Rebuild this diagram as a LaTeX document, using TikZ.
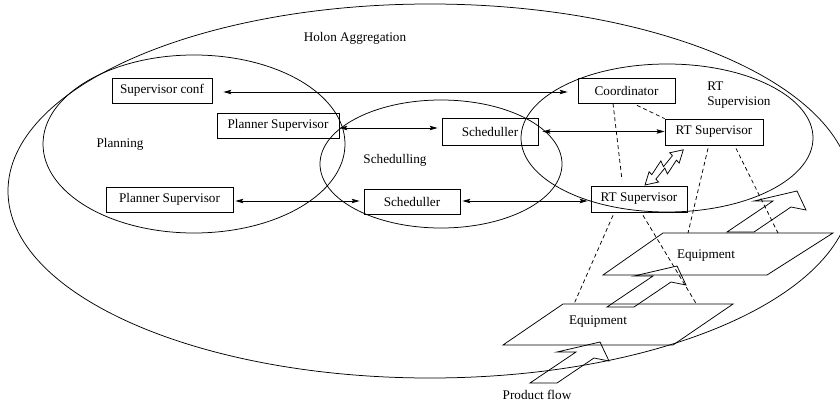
\documentclass[tikz,border=0pt]{standalone}
\usepackage{fontspec}
\setmainfont{Liberation Serif}
\usetikzlibrary{arrows.meta}
\newcommand\diagfont{\fontsize{13.2}{15.5}\selectfont}
\begin{document}
\begin{tikzpicture}[x=1pt,y=-1pt,line width=0.75pt,
  >={Stealth[length=8pt,width=4.5pt,inset=1.5pt]},
  box/.style={draw,minimum height=25pt,inner sep=0pt,font=\diagfont},
  lbl/.style={font=\diagfont,inner sep=0pt},
  biarrow/.style={<->},
  link/.style={dash pattern=on 4pt off 3pt},
  flowarrow/.pic={
    \draw (0,0) -- (46,-31) -- (27,-31) -- (70,-41) -- (79,-22) -- (64,-25) -- (27,0) -- cycle;
  }]
\useasboundingbox (0,0) rectangle (840,404);
\clip (0,0) rectangle (840,404);

% domains
\draw (430,191) ellipse [x radius=422pt, y radius=187pt];
\draw (194,144) ellipse [x radius=151pt, y radius=89pt];
\draw (441,164) ellipse [x radius=121pt, y radius=64pt];
\draw (667,138) ellipse [x radius=146pt, y radius=74pt];

\node[lbl] (holon) at (355,38) {Holon Aggregation};
\node[lbl] (plan) at (120,144) {Planning};
\node[lbl] (sched) at (395,160) {Schedulling};
\node[lbl,anchor=west,align=left] (rtsup) at (707,95) {RT\\Supervision};

% functional units
\node[box,minimum width=100pt] (sconf) at (162,90.5) {Supervisor conf};
\node[box,minimum width=122pt] (ps1) at (278,125.5) {Planner Supervisor};
\node[box,minimum width=127pt] (ps2) at (169.5,199.5) {Planner Supervisor};
\node[box,minimum width=96pt,minimum height=27pt] (sch1) at (490,131.5) {Scheduller};
\node[box,minimum width=96pt] (sch2) at (412,201.5) {Scheduller};
\node[box,minimum width=97pt] (coord) at (626.5,90.5) {Coordinator};
\node[box,minimum width=98pt,minimum height=26pt] (rts1) at (714,132) {RT Supervisor};
\node[box,minimum width=96pt,minimum height=26pt] (rts2) at (639,199) {RT Supervisor};

% message exchanges
\draw[biarrow,shorten <=11pt,shorten >=10pt] ([yshift=-1.5pt]sconf.east) -- ([yshift=-1.5pt]sconf.east -| coord.west);
\draw[biarrow,shorten >=4pt] ([yshift=-2.5pt]ps1.east) -- ([yshift=-2.5pt]ps1.east -| sch1.west);
\draw[biarrow,shorten <=4pt] (sch1.east) -- (sch1.east -| rts1.west);
\draw[biarrow,shorten <=2pt,shorten >=4pt] ([yshift=-1.5pt]ps2.east) -- ([yshift=-1.5pt]ps2.east -| sch2.west);
\draw[biarrow,shorten <=2pt,shorten >=3pt] ([yshift=0.5pt]sch2.east) -- ([yshift=0.5pt]sch2.east -| rts2.west);

% equipment planes
\coordinate (e1a) at (603,275); \coordinate (e1b) at (663,233);
\coordinate (e1c) at (833,233); \coordinate (e1d) at (767,275);
\coordinate (e2a) at (503,345); \coordinate (e2b) at (563,304);
\coordinate (e2c) at (733,304); \coordinate (e2d) at (673,345);
\draw (e1a) -- (e1b) -- (e1c) -- (e1d) -- cycle;
\draw (e2a) -- (e2b) -- (e2c) -- (e2d) -- cycle;
\node[lbl] (eq1) at (706,256) {Equipment};
\node[lbl] (eq2) at (598,322) {Equipment};

% supervision links
\coordinate (d1) at (622,180);
\coordinate (d2) at (688,233);
\coordinate (d3) at (778,233);
\coordinate (d4) at (574,304);
\coordinate (d5) at (697,305);
\draw[link] ([xshift=-13.5pt]coord.south) -- (d1);
\draw[link] ([xshift=10.5pt,yshift=-2pt]coord.south) -- (rts1.north west);
\draw[link] ([xshift=-6pt,yshift=-3pt]rts1.south) -- (d2);
\draw[link] ([xshift=22pt,yshift=-3pt]rts1.south) -- (d3);
\draw[link] ([xshift=-26pt,yshift=-3pt]rts2.south) -- (d4);
\draw[link] ([xshift=4pt,yshift=-3pt]rts2.south) -- (d5);

% real-time exchange between supervisors
\begin{scope}[shift={(645,185)},rotate=42.6]
\draw (0,0) -- (12,-7) -- (12,-3) -- (28,-7) -- (26,-1) -- (40,-3) -- (40,-7)
  -- (52,0) -- (40,7) -- (40,3) -- (24,7) -- (26,1) -- (12,3) -- (12,7) -- cycle;
\end{scope}

% product flow
\pic at (727,232) {flowarrow};
\pic at (607,307) {flowarrow};
\pic at (530,383) {flowarrow};
\node[lbl] (flow) at (537,395) {Product flow};
\end{tikzpicture}
\end{document}
